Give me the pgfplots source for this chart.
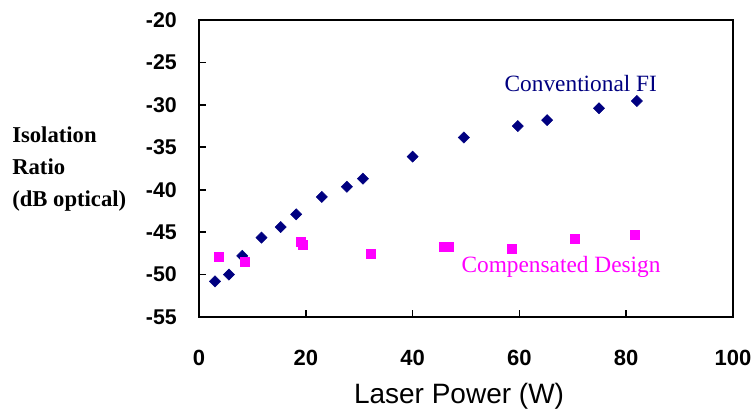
\documentclass[border=0pt]{standalone}
\usepackage{fontspec}
\setmainfont{Liberation Sans}
\newfontfamily\tnr{Liberation Serif}
\usepackage{pgfplots}
\pgfplotsset{compat=1.18}
\definecolor{fiblue}{HTML}{000080}
\definecolor{cdpink}{HTML}{FF00FF}

\begin{document}
\begin{tikzpicture}
% page size 753x409 px at 0.75pt/px, axis box lower left at the origin
\path[use as bounding box] (-149.25pt,-69pt) rectangle (415.5pt,237.75pt);
\begin{axis}[
    scale only axis,
    width=400.5pt, height=222.75pt,
    xmin=0, xmax=100, ymin=-55, ymax=-20,
    xtick={0,20,...,100},
    ytick={-55,-50,...,-20},
    tick pos=left, tick align=inside,
    major tick length=5pt,
    axis line style={black, line width=1.5pt},
    every tick/.style={black, line width=1.2pt},
    /pgf/number format/assume math mode=true,
    xticklabel style={font=\fontsize{16.5}{16.5}\selectfont\bfseries,
                      anchor=north, inner sep=0pt, yshift=-24.5pt},
    yticklabel style={font=\fontsize{16}{16}\selectfont\bfseries,
                      anchor=east, inner sep=0pt, xshift=-16.5pt},
    xlabel={Laser Power (W)},
    xlabel style={font=\fontsize{21}{21}\selectfont, inner sep=0pt,
                  at={(axis description cs:0.487,0)}, anchor=north,
                  yshift=-49.5pt},
    clip=false]
  \addplot[only marks, mark=square*, mark size=2.95pt,
           mark options={rotate=45, fill=fiblue, draw=fiblue}]
      coordinates {(3.0,-50.8) (5.6,-50.0) (8.1,-47.8) (11.7,-45.65)
                   (15.3,-44.4) (18.2,-42.9) (23.0,-40.85) (27.7,-39.65)
                   (30.7,-38.7) (40.0,-36.1) (49.6,-33.85) (59.7,-32.5)
                   (65.2,-31.8) (74.9,-30.4) (82.0,-29.55)};
  \addplot[only marks, mark=square*, mark size=3.4pt,
           mark options={fill=cdpink, draw=cdpink}]
      coordinates {(3.7,-47.85) (8.6,-48.45) (19.1,-46.15) (19.4,-46.5)
                   (32.1,-47.5) (45.8,-46.7) (46.7,-46.7) (58.5,-46.95)
                   (70.3,-45.75) (81.6,-45.3)};
  \node[anchor=base, inner sep=0pt, text=fiblue,
        font=\tnr\fontsize{17.5}{17.5}\selectfont]
      at (axis cs:71.5,-28.45) {Conventional FI};
  \node[anchor=base, inner sep=0pt, text=cdpink,
        font=\tnr\fontsize{17.5}{17.5}\selectfont]
      at (axis cs:67.8,-49.8) {Compensated Design};
\end{axis}
\node[anchor=north west, inner sep=0pt, align=left,
      font=\tnr\bfseries\fontsize{17}{24}\selectfont]
    at (-140.25pt,142.5pt) {Isolation\\Ratio\\(dB optical)};
\end{tikzpicture}
\end{document}
